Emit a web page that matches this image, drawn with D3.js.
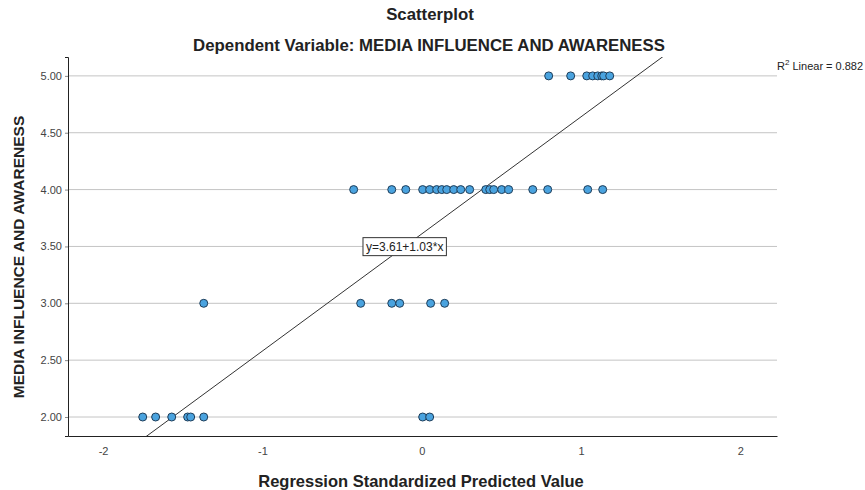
<!DOCTYPE html>
<html>
<head>
<meta charset="utf-8">
<script src="https://cdn.jsdelivr.net/npm/d3@7"></script>
<style>
  body { margin: 0; background: #fff; }
  text { font-family: "Liberation Sans", Arial, sans-serif; }
  .title { font-weight: bold; font-size: 16.8px; fill: #222; }
  .axisTitle { font-weight: bold; font-size: 16.5px; fill: #222; }
  .tick text { font-size: 11px; fill: #444; }
  .dot { fill: #4aa3df; stroke: #1f3e5a; stroke-width: 1; }
</style>
</head>
<body>
<div id="chart"></div>
<script>

// standardized predicted value (x) for each response level
var row5 = [0.797, 0.935, 1.036, 1.073, 1.105, 1.130, 1.142, 1.180]
var row4 = [-0.427, -0.188, -0.100, 0.006, 0.050, 0.094, 0.126, 0.157, 0.201, 0.245, 0.301,
            0.402, 0.427, 0.452, 0.502, 0.546, 0.697, 0.791, 1.042, 1.136]
var row3 = [-1.368, -0.383, -0.188, -0.138, 0.056, 0.144]
var row2 = [-1.751, -1.670, -1.569, -1.469, -1.450, -1.368, 0.006, 0.050]

var xTicks = [-2, -1, 0, 1, 2]
var yTicks = [2, 2.5, 3, 3.5, 4, 4.5, 5]

var fit = { a: 3.61, b: 1.03, r2: 0.882 }

var points = []
row5.forEach(d => points.push({ x: d, y: 5 }))
row4.forEach(d => points.push({ x: d, y: 4 }))
row3.forEach(d => points.push({ x: d, y: 3 }))
row2.forEach(d => points.push({ x: d, y: 2 }))

var width = 865, height = 490
var margin = { top: 57, right: 88, bottom: 54, left: 68 }

var svg = d3.select("#chart").append("svg")
    .attr("width", width)
    .attr("height", height)

var x = d3.scaleLinear()
    .domain([-2.22, 2.23])
    .range([margin.left, width - margin.right])

var y = d3.scaleLinear()
    .domain([1.833, 5.166])
    .range([height - margin.bottom, margin.top])

svg.append("clipPath").attr("id", "clip")
  .append("rect")
    .attr("x", margin.left)
    .attr("y", margin.top)
    .attr("width", width - margin.right - margin.left)
    .attr("height", height - margin.bottom - margin.top)

// gridlines
svg.append("g")
  .selectAll("line")
  .data(yTicks)
  .enter().append("line")
    .attr("x1", margin.left)
    .attr("x2", width - margin.right)
    .attr("y1", d => y(d))
    .attr("y2", d => y(d))
    .attr("stroke", "#c4c4c4")

// axes
var yAxis = svg.append("g")
    .attr("transform", `translate(${margin.left},0)`)
    .call(d3.axisLeft(y).tickValues(yTicks).tickFormat(d3.format(".2f")).tickSize(3).tickPadding(3))
yAxis.select(".domain").attr("stroke", "#222")
yAxis.selectAll(".tick line").attr("stroke", "#888")

var xAxis = svg.append("g")
    .attr("transform", `translate(0,${height - margin.bottom})`)
    .call(d3.axisBottom(x).tickValues(xTicks).tickFormat(d => String(d)).tickSize(0).tickPadding(11))
xAxis.select(".domain").attr("stroke", "#222")

// fit line
var xd = x.domain()
svg.append("line")
    .attr("clip-path", "url(#clip)")
    .attr("x1", x(xd[0]))
    .attr("y1", y(fit.a + fit.b * xd[0]))
    .attr("x2", x(xd[1]))
    .attr("y2", y(fit.a + fit.b * xd[1]))
    .attr("stroke", "#333")
    .attr("stroke-width", 1)

// points
svg.append("g")
  .selectAll("circle")
  .data(points)
  .enter().append("circle")
    .attr("class", "dot")
    .attr("cx", d => x(d.x))
    .attr("cy", d => y(d.y))
    .attr("r", 4)

// equation label on the line at 3.50
var eqY = 3.5
var eqX = (eqY - fit.a) / fit.b
var eq = svg.append("g")
    .attr("transform", `translate(${x(eqX)},${y(eqY)})`)
var eqText = eq.append("text")
    .attr("text-anchor", "middle")
    .attr("dy", "0.35em")
    .style("font-size", "12px")
    .attr("fill", "#222")
    .text("y=3.61+1.03*x")
var bb = eqText.node().getBBox()
eq.insert("rect", "text")
    .attr("x", bb.x - 3)
    .attr("y", bb.y - 2)
    .attr("width", bb.width + 6)
    .attr("height", bb.height + 4)
    .attr("fill", "#fff")
    .attr("stroke", "#333")

// R2 label
var r2 = svg.append("text")
    .attr("x", width - margin.right)
    .attr("y", 70)
    .style("font-size", "11px")
    .attr("fill", "#222")
r2.append("tspan").text("R")
r2.append("tspan").attr("dy", -5).style("font-size", "8px").text("2")
r2.append("tspan").attr("dy", 5).text(" Linear = " + fit.r2)

// titles
svg.append("text")
    .attr("class", "title")
    .attr("x", 430)
    .attr("y", 20)
    .attr("text-anchor", "middle")
    .text("Scatterplot")

svg.append("text")
    .attr("class", "title")
    .attr("x", 429)
    .attr("y", 51)
    .attr("text-anchor", "middle")
    .text("Dependent Variable: MEDIA INFLUENCE AND AWARENESS")

svg.append("text")
    .attr("class", "axisTitle")
    .attr("x", 421)
    .attr("y", 487)
    .attr("text-anchor", "middle")
    .text("Regression Standardized Predicted Value")

svg.append("text")
    .attr("class", "axisTitle")
    .attr("transform", "translate(24,257) rotate(-90)")
    .attr("text-anchor", "middle")
    .style("font-size", "15.5px")
    .text("MEDIA INFLUENCE AND AWARENESS")

</script>
</body>
</html>
